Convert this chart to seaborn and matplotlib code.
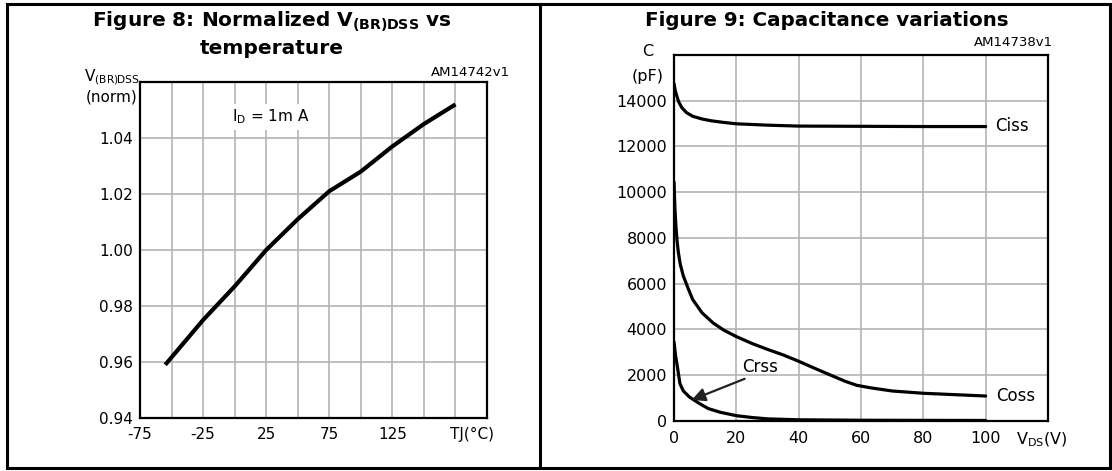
import matplotlib
matplotlib.use("Agg")
import matplotlib.pyplot as plt
import seaborn as sns
from matplotlib.patches import Rectangle
from matplotlib.lines import Line2D

# ---------------- data ----------------
temp_c = [-55, -25, 0, 25, 50, 75, 100, 125, 150, 175]
vbr_norm = [0.959, 0.975, 0.987, 1.000, 1.011, 1.021, 1.028, 1.037, 1.045, 1.052]
temp_ticks = [-75, -50, -25, 0, 25, 50, 75, 100, 125, 150, 175, 200]
temp_tick_labels = ["-75", "", "-25", "", "25", "", "75", "", "125", "", "", ""]
vbr_ticks = [0.94, 0.96, 0.98, 1.00, 1.02, 1.04, 1.06]
vbr_tick_labels = ["0.94", "0.96", "0.98", "1.00", "1.02", "1.04", ""]

vds_ciss = [0, 0.4, 0.8, 1.5, 2.5, 4, 6, 9, 12, 16, 20, 30, 40, 60, 80, 100]
c_ciss = [14750, 14450, 14250, 13950, 13700, 13480, 13320, 13200, 13120, 13050, 12990, 12930, 12890, 12880, 12870, 12870]
vds_coss = [0, 0.3, 0.6, 1.0, 1.4, 2.0, 3.0, 4.5, 6.0, 9.0, 12.6, 16, 20, 25, 30, 35, 40, 45, 51, 55, 58.6, 63, 70, 80, 90, 100]
c_coss = [10450, 9300, 8540, 7850, 7360, 6850, 6330, 5800, 5300, 4720, 4270, 3960, 3680, 3380, 3120, 2880, 2600, 2300, 1950, 1720, 1550, 1440, 1300, 1200, 1140, 1080]
vds_crss = [0, 0.5, 1.1, 1.9, 3.0, 5.0, 8.3, 11, 14.8, 20, 25, 30, 40, 60, 80, 100]
c_crss = [3450, 2850, 2350, 1620, 1300, 1030, 740, 530, 370, 220, 140, 80, 40, 20, 15, 10]
vds_ticks = [0, 20, 40, 60, 80, 100, 120]
vds_tick_labels = ["0", "20", "40", "60", "80", "100", ""]
c_ticks = [0, 2000, 4000, 6000, 8000, 10000, 12000, 14000, 16000]
c_tick_labels = ["0", "2000", "4000", "6000", "8000", "10000", "12000", "14000", ""]

# ---------------- style ----------------
sns.set_style("white")
plt.rcParams["font.family"] = ["DejaVu Sans"]
plt.rcParams["mathtext.fontset"] = "dejavusans"
plt.rcParams["text.color"] = "black"

W, H = 1112, 471
fig = plt.figure(figsize=(W / 100, H / 100), dpi=100)
fig.patch.set_facecolor("white")


def rect(x0, y0, x1, y1):
    return [x0 / W, 1 - y1 / H, (x1 - x0) / W, (y1 - y0) / H]


def fx(x):
    return x / W


def fy(y):
    return 1 - y / H


ax1 = fig.add_axes(rect(140, 82, 487, 418))
ax2 = fig.add_axes(rect(674, 55, 1048, 420.7))

grid_color = "#b4b4b4"
for ax in (ax1, ax2):
    ax.set_axisbelow(True)
    ax.grid(True, color=grid_color, linewidth=1.2)
    for s in ax.spines.values():
        s.set_color("black")
        s.set_linewidth(1.6)
        s.set_visible(True)
    ax.set_facecolor("white")

# ---- left chart ----
sns.lineplot(x=temp_c, y=vbr_norm, ax=ax1, color="black", linewidth=3.0,
             estimator=None, sort=False, solid_capstyle="butt")
ax1.set_xlim(-75, 200)
ax1.set_ylim(0.94, 1.06)
ax1.set_xticks(temp_ticks)
ax1.set_xticklabels(temp_tick_labels)
ax1.set_yticks(vbr_ticks)
ax1.set_yticklabels(vbr_tick_labels)
ax1.tick_params(axis="both", length=0, labelsize=11, colors="black")
ax1.tick_params(axis="x", pad=6.5)
ax1.tick_params(axis="y", pad=5)
ax1.set_xlabel("")
ax1.set_ylabel("")
ax1.annotate("TJ(°C)", xy=(188, 0), xycoords=ax1.get_xaxis_transform(),
             xytext=(0, -6.5), textcoords="offset points", ha="center", va="top",
             fontsize=11)
ax1.text(29, 1.0475, r"I$_{\mathregular{D}}$ = 1m A", ha="center", va="center", fontsize=11,
         bbox=dict(facecolor="white", edgecolor="none", pad=3))

# ---- right chart ----
sns.lineplot(x=vds_ciss, y=c_ciss, ax=ax2, color="black", linewidth=2.3,
             estimator=None, sort=False, solid_capstyle="round")
sns.lineplot(x=vds_coss, y=c_coss, ax=ax2, color="black", linewidth=2.3,
             estimator=None, sort=False, solid_capstyle="round")
sns.lineplot(x=vds_crss, y=c_crss, ax=ax2, color="black", linewidth=2.3,
             estimator=None, sort=False, solid_capstyle="round")
ax2.set_xlim(0, 120)
ax2.set_ylim(0, 16000)
ax2.set_xticks(vds_ticks)
ax2.set_xticklabels(vds_tick_labels)
ax2.set_yticks(c_ticks)
ax2.set_yticklabels(c_tick_labels)
ax2.tick_params(axis="both", length=0, labelsize=11.5, colors="black")
ax2.tick_params(axis="x", pad=7.3)
ax2.tick_params(axis="y", pad=5)
ax2.set_xlabel("")
ax2.set_ylabel("")
ax2.annotate(r"V$_{\mathregular{DS}}$(V)", xy=(118, 0), xycoords=ax2.get_xaxis_transform(),
             xytext=(0, -7.3), textcoords="offset points", ha="center", va="top",
             fontsize=11.5)
ax2.text(103, 12900, "Ciss", ha="left", va="center", fontsize=12)
ax2.text(103.5, 1100, "Coss", ha="left", va="center", fontsize=12)
ax2.annotate("Crss", xy=(5.7, 910), xytext=(27.6, 2370), ha="center", va="center",
             fontsize=12,
             arrowprops=dict(arrowstyle="-|>", color="#222222", lw=1.6,
                             mutation_scale=20, relpos=(0.3, 0.0), shrinkA=0, shrinkB=0))

# ---- figure-level texts ----
fig.text(fx(272), fy(22), r"Figure 8: Normalized V$_{\mathbf{(BR)DSS}}$ vs",
         ha="center", va="center", fontsize=14.5, fontweight="bold")
fig.text(fx(272), fy(48), "temperature", ha="center", va="center",
         fontsize=14.5, fontweight="bold")
fig.text(fx(827), fy(20), "Figure 9: Capacitance variations", ha="center", va="center",
         fontsize=14.3, fontweight="bold")
fig.text(fx(510), fy(72), "AM14742v1", ha="right", va="center", fontsize=9.5)
fig.text(fx(1053), fy(42), "AM14738v1", ha="right", va="center", fontsize=9.5)
fig.text(fx(112), fy(77), r"V$_{\mathregular{(BR)DSS}}$", ha="center", va="center", fontsize=11)
fig.text(fx(112), fy(97), "(norm)", ha="center", va="center", fontsize=11)
fig.text(fx(648), fy(52), "C", ha="center", va="center", fontsize=11.5)
fig.text(fx(648), fy(77), "(pF)", ha="center", va="center", fontsize=11.5)

# ---- frame ----
fig.add_artist(Rectangle((fx(7), fy(468)), fx(1110) - fx(7), fy(4) - fy(468),
                         transform=fig.transFigure, fill=False, edgecolor="black",
                         linewidth=2.2))
fig.add_artist(Line2D([fx(540), fx(540)], [fy(468), fy(4)], transform=fig.transFigure,
                      color="black", linewidth=2.2))

fig.savefig("out.png", dpi=100, facecolor="white")
